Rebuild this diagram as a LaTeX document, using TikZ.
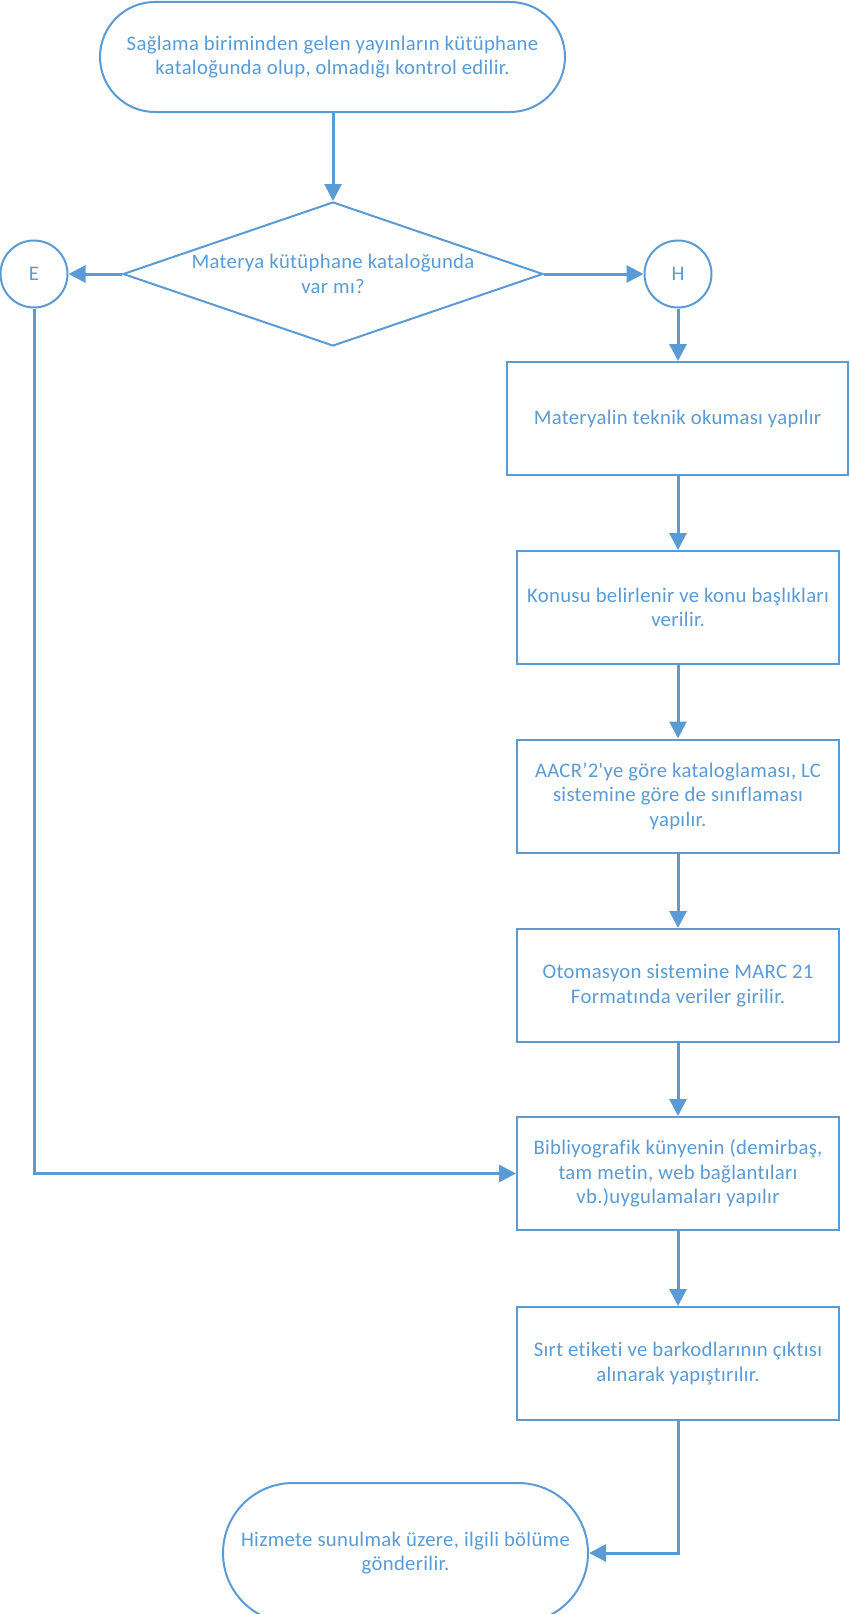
\documentclass[tikz,border=0pt]{standalone}
\usepackage{fontspec}
\setmainfont{Carlito}[Ligatures={NoCommon,TeXOff}, LetterSpace=1.5]
\usetikzlibrary{arrows.meta,shapes.geometric}
\definecolor{fblue}{HTML}{5B9BD5}
\begin{document}
\begin{tikzpicture}[x=1bp,y=-1bp,
  every node/.style={font=\fontsize{20.8}{24.7}\selectfont, text=fblue, align=center, inner sep=0pt},
  shapeline/.style={draw=fblue, line width=2bp, fill=white},
  procbox/.style={shapeline, rectangle, minimum width=322bp, minimum height=113bp},
  termbox/.style={shapeline, rectangle},
  conn/.style={draw=fblue, line width=3bp, -{Triangle[length=17bp,width=17bp]}}
]
\useasboundingbox (0,0) rectangle (849,1614);
\clip (0,0) rectangle (849,1614);

\node[termbox, minimum width=465bp, minimum height=110bp, rounded corners=55bp] (start) at (332.5,57)
  {Sağlama biriminden gelen yayınların kütüphane\\kataloğunda olup, olmadığı kontrol edilir.};

\node[shapeline, diamond, minimum width=420bp, minimum height=144bp, aspect=2.9] (dec) at (333,274)
  {Materya kütüphane kataloğunda\\var mı?};

\node[shapeline, circle, minimum size=67bp] (E) at (34,274) {E};
\node[shapeline, circle, minimum size=67bp] (H) at (678,274) {H};

\node[procbox, minimum width=341bp] (b1) at (677.5,418.5) {Materyalin teknik okuması yapılır};
\node[procbox] (b2) at (678,607.5) {Konusu belirlenir ve konu başlıkları\\verilir.};
\node[procbox] (b3) at (678,796) {AACR’2'ye göre kataloglaması, LC\\sistemine göre de sınıflaması\\yapılır.};
\node[procbox] (b4) at (678,985.5) {Otomasyon sistemine MARC 21\\Formatında veriler girilir.};
\node[procbox] (b5) at (678,1173.5) {Bibliyografik künyenin (demirbaş,\\tam metin, web bağlantıları\\vb.)uygulamaları yapılır};
\node[procbox] (b6) at (678,1363.5) {Sırt etiketi ve barkodlarının çıktısı\\alınarak yapıştırılır.};

\node[termbox, minimum width=365bp, minimum height=140bp, rounded corners=70bp] (end) at (405.5,1553)
  {Hizmete sunulmak üzere, ilgili bölüme\\gönderilir.};

\draw[conn] (start.south -| dec.north) -- (dec.north);
\draw[conn] (dec.west) -- (E.east);
\draw[conn] (dec.east) -- (H.west);
\draw[conn] (H.south) -- (H.south |- b1.north);
\draw[conn] (b1.south -| b2.north) -- (b2.north);
\draw[conn] (b2) -- (b3);
\draw[conn] (b3) -- (b4);
\draw[conn] (b4) -- (b5);
\draw[conn] (b5) -- (b6);
\draw[conn] (E.south) |- (b5.west);
\draw[conn] (b6.south) |- (end.east);
\end{tikzpicture}
\end{document}
